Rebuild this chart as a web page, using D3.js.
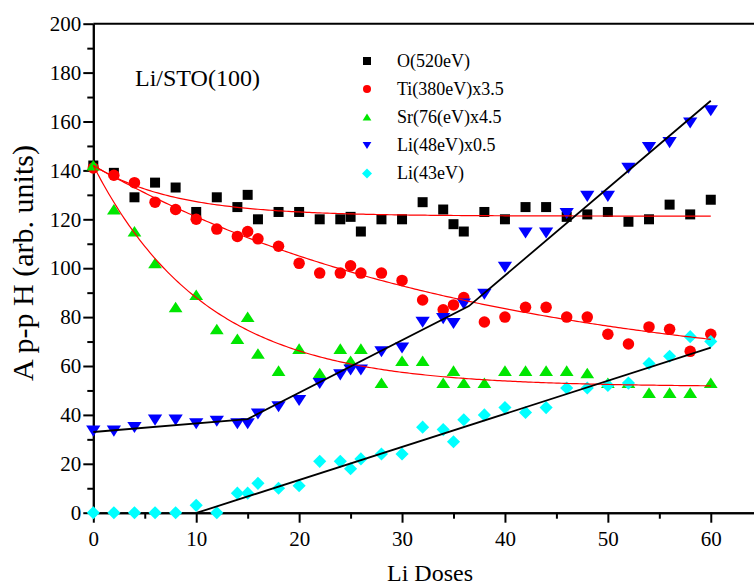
<!DOCTYPE html>
<html lang="en">
<head>
    <meta charset="UTF-8">
    <title>Li/STO(100)</title>
    <script src="https://cdn.jsdelivr.net/npm/d3@7"></script>
</head>
<body>

    <div class="marco"></div>

    <style>
        body, html {margin: 0; padding: 0; background: #fff;}
        .marco {width: 754px; height: 586px; overflow: hidden;}
        text {font-family: "Liberation Serif", "Times New Roman", serif; fill: #000;}
        .eje path, .eje line {stroke: #000; stroke-width: 2;}
        .eje text {font-size: 21px;}
    </style>

    <script>
        // dosis (eje x), comun a todas las series
        const doses = [0, 2, 4, 6, 8, 10, 12, 14, 15, 16, 18, 20, 22, 24, 25, 26, 28, 30,
                       32, 34, 35, 36, 38, 40, 42, 44, 46, 48, 50, 52, 54, 56, 58, 60];

        const oVals    = [142, 139, 129, 135, 133, 123, 129, 125, 130, 120, 123, 123, 120, 120, 121, 115, 120, 120,
                          127, 124, 118, 115, 123, 120, 125, 125, 121, 122, 123, 119, 120, 126, 122, 128];
        const tiVals   = [141, 138, 135, 127, 124, 120, 116, 113, 115, 112, 109, 102, 98, 98, 101, 98, 98, 95,
                          87, 83, 85, 88, 78, 80, 84, 84, 80, 80, 73, 69, 76, 75, 66, 73];
        const srVals   = [142, 124, 115, 102, 84, 89, 75, 71, 80, 65, 58, 67, 57, 67, 62, 67, 53, 62,
                          62, 53, 58, 53, 53, 58, 58, 58, 58, 57, 53, 53, 49, 49, 49, 53];
        const li48Vals = [33.5, 33.5, 35, 38, 38, 36.5, 37.5, 36.5, 36.5, 40.5, 43.5, 46, 53, 56.5, 58.5, 58.5, 66, 67.5,
                          78, 79.5, 77.5, 85.5, 89.5, 100.5, 114.5, 114.5, 122.5, 129.5, 129.5, 141, 149.5, 151.5, 159.5, 164.5];
        const li43Vals = [0, 0, 0, 0, 0, 3, 0, 8, 8, 12, 10, 11, 21, 21, 18, 22, 24, 24,
                          35, 34, 29, 38, 40, 43, 41, 43, 51, 51, 52, 53, 61, 64, 72, 70];

        const legendLabels = ["O(520eV)", "Ti(380eV)x3.5", "Sr(76(eV)x4.5", "Li(48eV)x0.5", "Li(43eV)"];

        // ajustes exponenciales y = a + b*exp(-x/t)  [a, b, t]
        const fitO  = [121.3, 20.7, 8];
        const fitTi = [53.4, 88.6, 37];
        const fitSr = [51.5, 90.5, 11];

        // ajustes lineales (vertices)
        const fitLi48X = [0, 15, 36.5, 60];
        const fitLi48Y = [33, 38.3, 84.5, 168.5];
        const fitLi43X = [10.1, 60];
        const fitLi43Y = [0, 67.5];

        const xTicks = [0, 10, 20, 30, 40, 50, 60];
        const yTicks = [0, 20, 40, 60, 80, 100, 120, 140, 160, 180, 200];

        var ancho = 754,
            alto = 586,
            mIzq = 93.3,
            mSup = 23.7,
            mInf = 512.7;

        var svg = d3.select(".marco").append("svg")
            .attr("width", ancho)
            .attr("height", alto);

        var x = d3.scaleLinear().domain([0, 64.2]).range([mIzq, ancho]),
            y = d3.scaleLinear().domain([0, 200]).range([mInf, mSup]);

        var serif = "Liberation Serif, Times New Roman, serif";

        // ticks menores
        svg.append("g")
            .attr("class", "eje")
            .attr("transform", `translate(0, ${mInf})`)
            .call(d3.axisBottom(x).tickValues(d3.range(5, 65, 10)).tickSize(6).tickSizeOuter(0).tickFormat(""));
        svg.append("g")
            .attr("class", "eje")
            .attr("transform", `translate(${mIzq}, 0)`)
            .call(d3.axisLeft(y).tickValues(d3.range(10, 200, 20)).tickSize(6).tickSizeOuter(0).tickFormat(""));

        // ejes principales
        svg.append("g")
            .attr("class", "eje")
            .attr("transform", `translate(0, ${mInf})`)
            .call(d3.axisBottom(x).tickValues(xTicks).tickSize(10).tickSizeOuter(0).tickPadding(8))
            .attr("font-family", serif);
        svg.append("g")
            .attr("class", "eje")
            .attr("transform", `translate(${mIzq}, 0)`)
            .call(d3.axisLeft(y).tickValues(yTicks).tickSize(10).tickSizeOuter(0).tickPadding(2))
            .attr("font-family", serif);

        // borde superior
        svg.append("line")
            .attr("x1", mIzq).attr("x2", ancho)
            .attr("y1", y(200)).attr("y2", y(200))
            .attr("stroke", "#000").attr("stroke-width", 2);

        // simbolos
        function marker(tipo, s) {
            var h = s / 2;
            if (tipo == "square") return `M${-h},${-h}H${h}V${h}H${-h}Z`;
            if (tipo == "circle") return d3.symbol(d3.symbolCircle, Math.PI * h * h)();
            if (tipo == "up") return `M0,${-h * 0.9}L${h * 1.1},${h * 0.8}L${-h * 1.1},${h * 0.8}Z`;
            if (tipo == "down") return `M0,${h * 0.9}L${h * 1.1},${-h * 0.8}L${-h * 1.1},${-h * 0.8}Z`;
            if (tipo == "diamond") return `M0,${-h * 1.25}L${h * 1.25},0L0,${h * 1.25}L${-h * 1.25},0Z`;
        }

        var series = [
            {vals: oVals, tipo: "square", color: "#000000", size: 10},
            {vals: tiVals, tipo: "circle", color: "#ff0000", size: 11.5},
            {vals: srVals, tipo: "up", color: "#00e600", size: 12.5},
            {vals: li48Vals, tipo: "down", color: "#0000ff", size: 13},
            {vals: li43Vals, tipo: "diamond", color: "#00ffff", size: 10.5}
        ];

        series.forEach(s => {
            svg.append("g").selectAll("path")
                .data(doses.map((d, i) => [d, s.vals[i]]))
                .enter().append("path")
                .attr("d", marker(s.tipo, s.size))
                .attr("fill", s.color)
                .attr("transform", d => `translate(${x(d[0])}, ${y(d[1])})`);
        });

        // curvas de ajuste
        var linea = d3.line().x(d => x(d[0])).y(d => y(d[1]));
        var muestras = d3.range(0, 60.001, 0.25);

        [fitO, fitTi, fitSr].forEach(p => {
            svg.append("path")
                .attr("d", linea(muestras.map(v => [v, p[0] + p[1] * Math.exp(-v / p[2])])))
                .attr("fill", "none")
                .attr("stroke", "#ff0000")
                .attr("stroke-width", 1.2);
        });

        [[fitLi48X, fitLi48Y], [fitLi43X, fitLi43Y]].forEach(f => {
            svg.append("path")
                .attr("d", linea(f[0].map((v, i) => [v, f[1][i]])))
                .attr("fill", "none")
                .attr("stroke", "#000")
                .attr("stroke-width", 1.8);
        });

        // leyenda
        var leyenda = svg.append("g");
        legendLabels.forEach((t, i) => {
            var ly = 61 + i * 28.1;
            leyenda.append("path")
                .attr("d", marker(series[i].tipo, 8))
                .attr("fill", series[i].color)
                .attr("transform", `translate(367, ${ly})`);
            leyenda.append("text")
                .attr("x", 397)
                .attr("y", ly + 6)
                .attr("font-size", 18)
                .text(t);
        });

        // titulos
        svg.append("text")
            .attr("x", 135).attr("y", 86)
            .attr("font-size", 24)
            .text("Li/STO(100)");

        svg.append("text")
            .attr("x", 430).attr("y", 581)
            .attr("text-anchor", "middle")
            .attr("font-size", 24)
            .text("Li Doses");

        svg.append("text")
            .attr("transform", "translate(33, 263) rotate(-90)")
            .attr("text-anchor", "middle")
            .attr("font-size", 30)
            .text("A p-p H (arb. units)");
    </script>
</body>
</html>
